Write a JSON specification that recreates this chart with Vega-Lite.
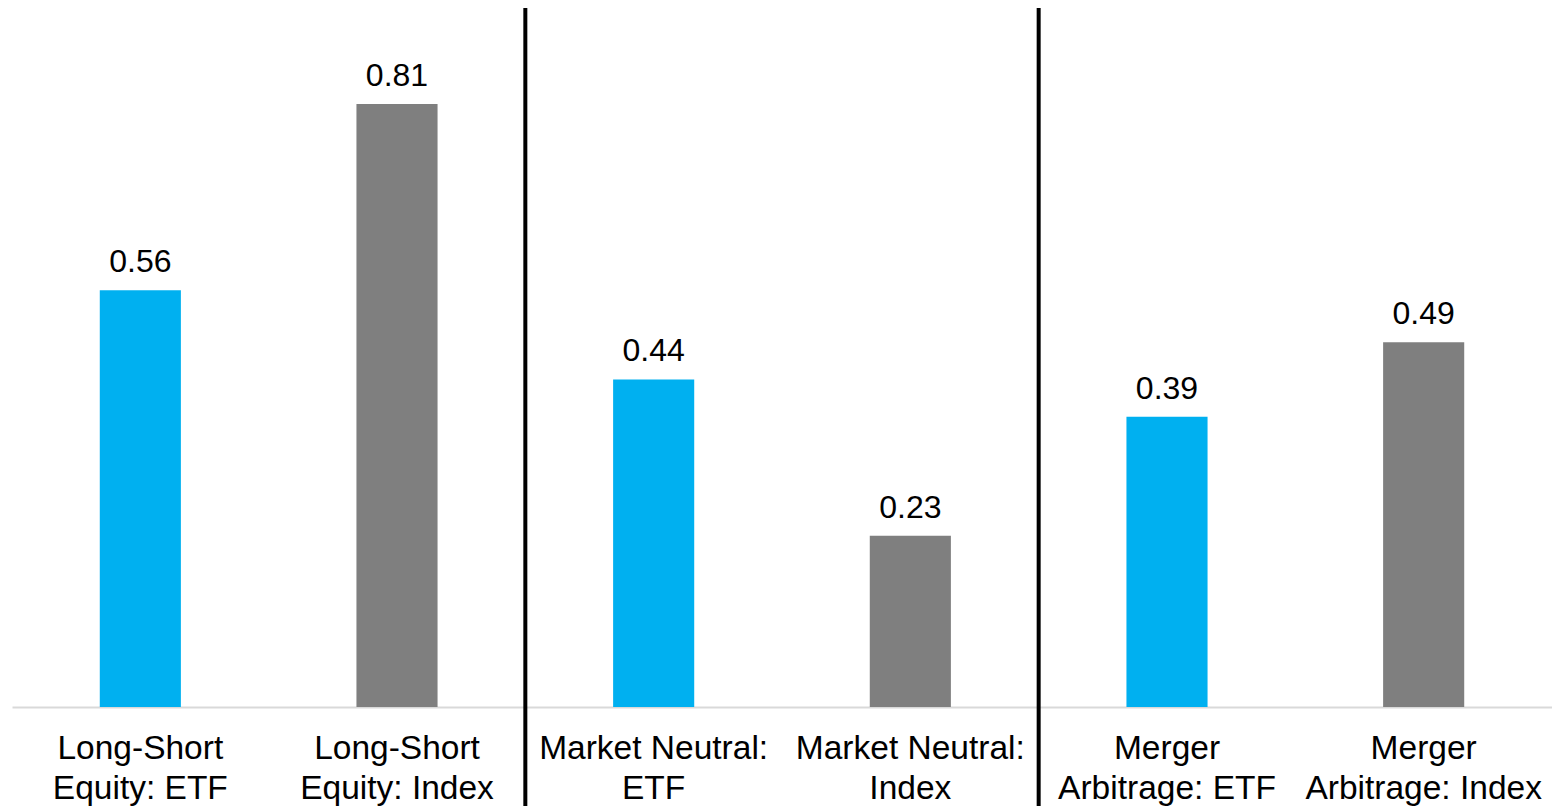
{
  "$schema": "https://vega.github.io/schema/vega-lite/v6.json",
  "width": 1540,
  "height": 699,
  "autosize": {"type": "none"},
  "padding": {"left": 12, "top": 8, "right": 0, "bottom": 99},
  "background": "white",
  "config": {"view": {"stroke": null}, "font": "Liberation Sans"},
  "data": {
    "values": [
      {"category": "Long-Short\nEquity: ETF", "type": "ETF", "value": 0.56},
      {"category": "Long-Short\nEquity: Index", "type": "Index", "value": 0.81},
      {"category": "Market Neutral:\nETF", "type": "ETF", "value": 0.44},
      {"category": "Market Neutral:\nIndex", "type": "Index", "value": 0.23},
      {"category": "Merger\nArbitrage: ETF", "type": "ETF", "value": 0.39},
      {"category": "Merger\nArbitrage: Index", "type": "Index", "value": 0.49}
    ]
  },
  "layer": [
    {
      "encoding": {
        "x": {
          "field": "category",
          "type": "nominal",
          "sort": null,
          "scale": {"type": "band", "paddingInner": 0.684, "paddingOuter": 0.342},
          "axis": {
            "title": null,
            "labelAngle": 0,
            "labelFontSize": 33.5,
            "labelColor": "#000000",
            "labelFont": "Liberation Sans",
            "labelPadding": 25,
            "labelLineHeight": 40,
            "labelLimit": 0,
            "labelOverlap": false,
            "labelExpr": "split(datum.label, '\\n')",
            "ticks": false,
            "domainColor": "#D9D9D9",
            "domainWidth": 2,
            "grid": false
          }
        },
        "y": {
          "field": "value",
          "type": "quantitative",
          "scale": {"domain": [0, 0.939], "nice": false, "zero": true},
          "axis": null
        }
      },
      "layer": [
        {
          "mark": {"type": "bar"},
          "encoding": {
            "color": {
              "field": "type",
              "type": "nominal",
              "scale": {"domain": ["ETF", "Index"], "range": ["#00B0F0", "#7F7F7F"]},
              "legend": null
            }
          }
        },
        {
          "mark": {"type": "text", "dy": -18, "baseline": "alphabetic", "fontSize": 32, "color": "#000000", "font": "Liberation Sans"},
          "encoding": {"text": {"field": "value", "type": "quantitative", "format": ".2f"}}
        }
      ]
    },
    {
      "data": {
        "values": [
          {"boundary": "Long-Short\nEquity: Index"},
          {"boundary": "Market Neutral:\nIndex"}
        ]
      },
      "mark": {"type": "rule", "strokeWidth": 4, "color": "#000000"},
      "encoding": {
        "x": {
          "field": "boundary",
          "type": "nominal",
          "bandPosition": 1,
          "scale": {
            "type": "band",
            "domain": ["Long-Short\nEquity: ETF", "Long-Short\nEquity: Index", "Market Neutral:\nETF", "Market Neutral:\nIndex", "Merger\nArbitrage: ETF", "Merger\nArbitrage: Index"],
            "paddingInner": 0,
            "paddingOuter": 0
          },
          "axis": null
        },
        "y": {"datum": 0.939},
        "y2": {"datum": -0.14}
      }
    }
  ],
  "resolve": {"scale": {"x": "independent"}}
}
